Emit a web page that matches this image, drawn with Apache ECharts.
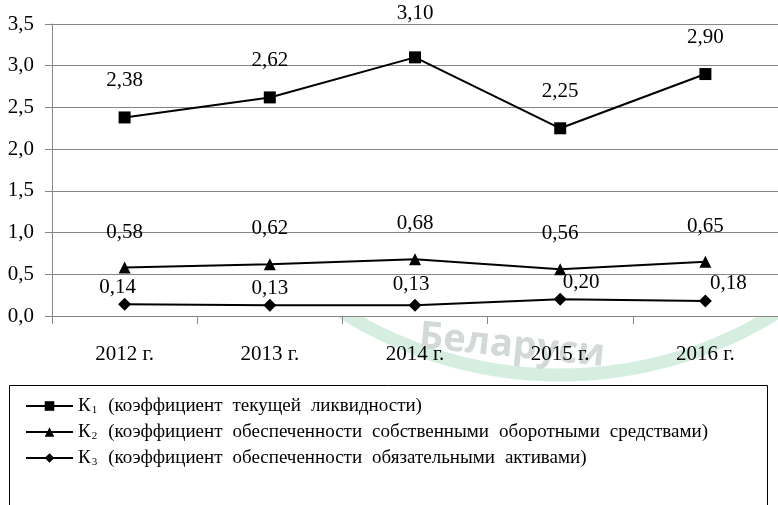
<!DOCTYPE html>
<html>
<head>
<meta charset="utf-8">
<script src="https://cdn.jsdelivr.net/npm/echarts@6/dist/echarts.min.js"></script>
<style>
html,body{margin:0;padding:0;background:#fff;}
#c{width:778px;height:505px;}
</style>
</head>
<body>
<div id="c"></div>
<script>
const categories = ['2012 г.', '2013 г.', '2014 г.', '2015 г.', '2016 г.'];
const k1 = [2.38, 2.62, 3.10, 2.25, 2.90];
const k2 = [0.58, 0.62, 0.68, 0.56, 0.65];
const k3 = [0.14, 0.13, 0.13, 0.20, 0.18];
const names = [
  'К1 (коэффициент текущей ликвидности)',
  'К2 (коэффициент обеспеченности собственными оборотными средствами)',
  'К3 (коэффициент обеспеченности обязательными активами)'
];
const yTicks = ['0,0','0,5','1,0','1,5','2,0','2,5','3,0','3,5'];

const FONT = '"Liberation Serif", "Times New Roman", serif';
const fmt = p => p.value.toFixed(2).replace('.', ',');

// per-point label nudges (style only)
const k3Shift = [[-7,0],[0,0],[-4,-4],[21,0],[23,0]];

const chart = echarts.init(document.getElementById('c'), null, {renderer:'canvas'});
const baseLabel = {show:true, position:'top', color:'#000', fontFamily:FONT, fontSize:21, formatter:fmt};

chart.setOption({
  animation:false,
  backgroundColor:'#fff',
  graphic:[
    {type:'arc', z:-10, silent:true,
      shape:{cx:560, cy:-34, r:409, startAngle:Math.PI*0.1, endAngle:Math.PI*0.9},
      style:{stroke:'#d6eee0', lineWidth:13, fill:null}},
    {type:'text', z:-9, silent:true, x:512, y:346, rotation:-0.1,
      style:{text:'Беларуси', fill:'#d3d9d6', font:'bold 38px "Open Sans", sans-serif', align:'center', verticalAlign:'middle'}},
    {type:'rect', z:5, silent:true,
      shape:{x:9.5, y:385.5, width:758, height:200},
      style:{stroke:'#000', lineWidth:1, fill:null}}
  ],
  grid:{left:52, right:0, top:24, bottom:189, show:true, backgroundColor:'#fff', borderWidth:0},
  xAxis:{
    type:'category', data:categories, boundaryGap:true,
    axisLine:{show:true, lineStyle:{color:'#868686', width:1}},
    axisTick:{show:true, length:8, interval:0, lineStyle:{color:'#868686'}},
    axisLabel:{color:'#000', fontFamily:FONT, fontSize:21, margin:28, interval:0}
  },
  yAxis:{
    type:'value', min:0, max:3.5, interval:0.5,
    axisLine:{show:true, lineStyle:{color:'#868686', width:1}},
    axisTick:{show:true, length:7, lineStyle:{color:'#868686'}},
    splitLine:{show:true, lineStyle:{color:'#868686', width:1}},
    axisLabel:{color:'#000', fontFamily:FONT, fontSize:21, margin:18,
      formatter:(v)=> yTicks[Math.round(v/0.5)]}
  },
  legend:{
    orient:'vertical', left:20, top:391, itemWidth:47, itemHeight:12, itemGap:6,
    data:names,
    formatter:(n)=> n.replace(/^К(\d)/, 'К{s|$1}').replace(/ /g, '{g| }'),
    textStyle:{color:'#000', fontFamily:FONT, fontSize:19, lineHeight:20,
      rich:{
        s:{fontFamily:FONT, fontSize:11, lineHeight:20, verticalAlign:'bottom', padding:[0,1,0,1]},
        g:{fontFamily:FONT, fontSize:19, lineHeight:20, width:10}
      }}
  },
  series:[
    {name:names[0], type:'line', data:k1.map((v,i)=> i===2 ? {value:v, label:{distance:27}} : v),
      symbol:'rect', symbolSize:12, lineStyle:{color:'#000', width:2}, itemStyle:{color:'#000'},
      label:Object.assign({}, baseLabel, {distance:20})},
    {name:names[1], type:'line', data:k2,
      symbol:'triangle', symbolSize:[12,12], lineStyle:{color:'#000', width:2}, itemStyle:{color:'#000'},
      label:Object.assign({}, baseLabel, {distance:19})},
    {name:names[2], type:'line', data:k3.map((v,i)=>({value:v, label:{offset:k3Shift[i]}})),
      symbol:'diamond', symbolSize:13, lineStyle:{color:'#000', width:2}, itemStyle:{color:'#000'},
      label:Object.assign({}, baseLabel, {distance:0})}
  ]
});
</script>
</body>
</html>
